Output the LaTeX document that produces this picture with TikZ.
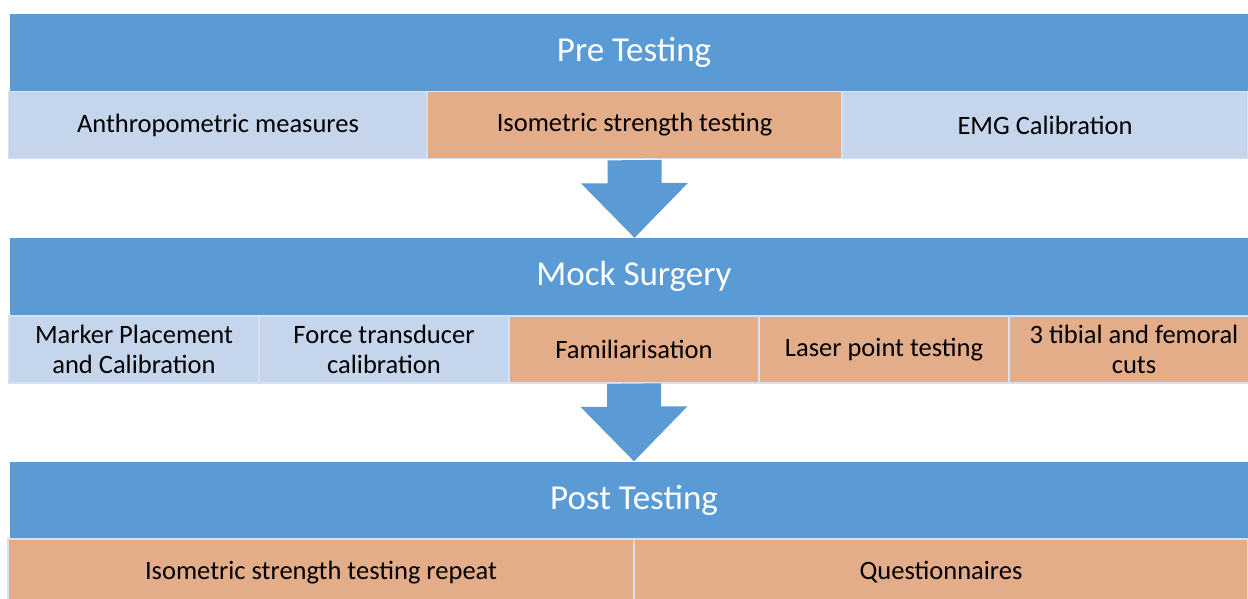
\documentclass[tikz,border=0pt]{standalone}
\usepackage{fontspec}
\setmainfont{Carlito}
\usepackage{xcolor}
\definecolor{barBlue}{RGB}{91,155,213}
\definecolor{lightBlue}{RGB}{197,214,236}
\definecolor{boxOrange}{RGB}{228,173,138}
\definecolor{edgeBlue}{RGB}{214,224,240}
\tikzset{
  hdr/.style={fill=barBlue, text=white, font=\fontsize{35}{40}\selectfont,
    minimum width=1248pt, minimum height=77pt, inner sep=0pt},
  cell/.style={draw=edgeBlue, line width=1.8pt, minimum height=67pt, inner sep=0pt,
    font=\fontsize{26.5}{29.5}\selectfont, align=center, text=black},
  cellblue/.style={cell, fill=lightBlue},
  cellorange/.style={cell, fill=boxOrange},
  flowarrow/.style={fill=barBlue}
}

\begin{document}
\begin{tikzpicture}[x=1pt, y=-1pt]
    \newcommand\shaft{27}
    \newcommand\head{53.5}
    \newcommand\neck{23}

    \useasboundingbox (0,0) rectangle (1248,598);
    \clip (0,0) rectangle (1248,598);

    % pre testing
    \node[hdr] (pre) at (634,52) {Pre Testing};
    \node[cellblue, minimum width=419pt] (anthro) at (218,125) {Anthropometric measures};
    \node[cellorange, minimum width=415pt] (isotest) at (634.5,125) {Isometric strength testing};
    \node[cellblue, minimum width=406pt] (emg) at (1045,125) {EMG Calibration};

    % mock surgery
    \node[hdr] (mock) at (634,276.5) {Mock Surgery};
    \node[cellblue, minimum width=250pt] (marker) at (134,349.5) {Marker Placement\\and Calibration};
    \node[cellblue, minimum width=250pt] (force) at (384,349.5) {Force transducer\\calibration};
    \node[cellorange, minimum width=250pt] (famil) at (634,349.5) {Familiarisation};
    \node[cellorange, minimum width=250pt] (laser) at (884,349.5) {Laser point testing};
    \node[cellorange, minimum width=250pt] (cuts) at (1134,349.5) {3 tibial and femoral\\cuts};

    % post testing
    \node[hdr] (post) at (634,500) {Post Testing};
    \node[cellorange, minimum width=626pt] (isorep) at (321,572.5) {Isometric strength testing repeat};
    \node[cellorange, minimum width=614pt] (quest) at (941,572.5) {Questionnaires};

    % draw arrow
    \fill[flowarrow] (isotest.south) ++(-\shaft,1) -- ++(0,\neck) -- ++(\shaft-\head,0)
        -- (isotest.south |- mock.north) -- ++(\head,-55) -- ++(\shaft-\head,0) -- ++(0,-\neck) -- cycle;
    \fill[flowarrow] (famil.south) ++(-\shaft,0) -- ++(0,\neck) -- ++(\shaft-\head,0)
        -- (famil.south |- post.north) -- ++(\head,-55) -- ++(\shaft-\head,0) -- ++(0,-\neck) -- cycle;
\end{tikzpicture}
\end{document}
